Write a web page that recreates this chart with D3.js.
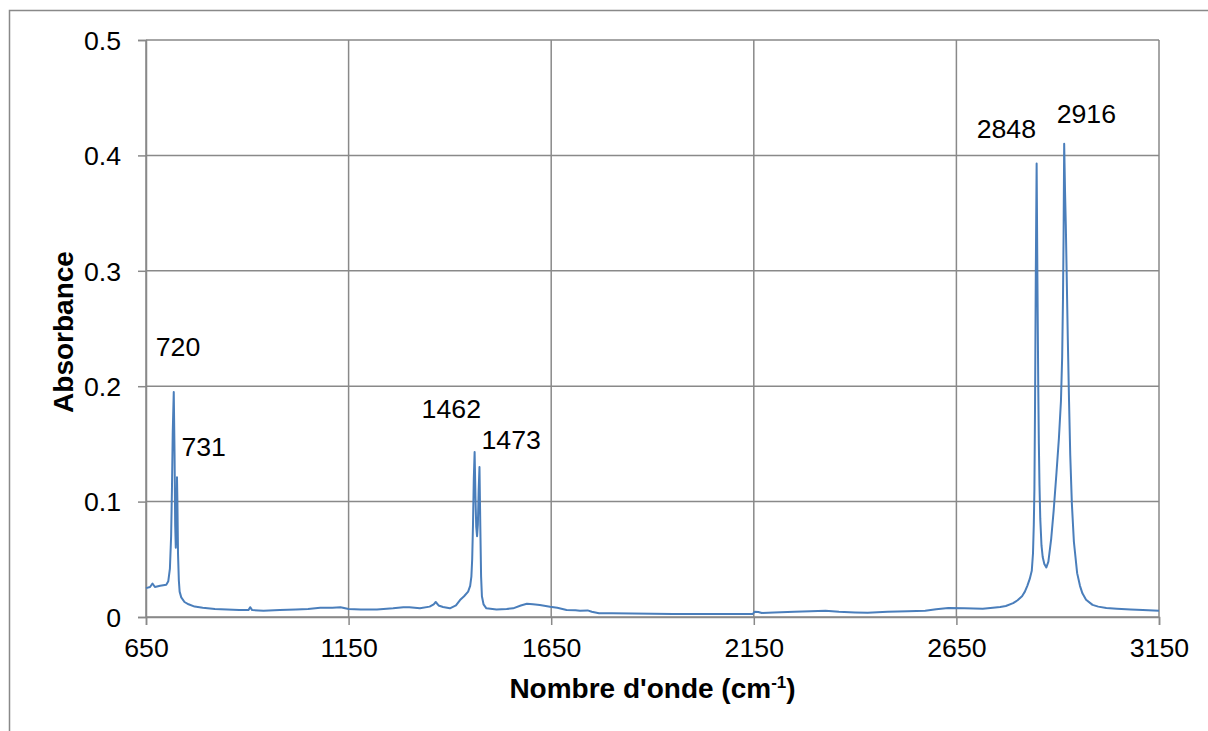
<!DOCTYPE html>
<html>
<head>
<meta charset="utf-8">
<script src="https://cdn.jsdelivr.net/npm/d3@7"></script>
<style>
  body { margin: 0; background: #fff; }
  text { font-family: "Liberation Sans", Arial, sans-serif; fill: #000; }
</style>
</head>
<body>
<svg class="view" width="1208" height="731"></svg>
<script>
// spectrum: wavenumber (cm-1) and absorbance
var wavenumber = [
    650, 660, 666, 672, 685, 700, 705, 709, 712, 714, 716, 718.5, 720.5, 722, 723.5, 725, 726.5, 727.5, 729, 731,
    733, 737, 745, 755, 770, 790, 820, 850, 880, 903, 907, 912, 940, 980, 1020, 1050, 1080, 1110, 1130, 1150,
    1180, 1220, 1260, 1285, 1300, 1326, 1350, 1360, 1365, 1372, 1383, 1400, 1415, 1425, 1435, 1445, 1450, 1453, 1455, 1457,
    1459, 1461, 1463, 1465, 1467, 1469, 1471, 1473, 1475, 1477, 1479, 1483, 1490, 1515, 1540, 1556, 1575, 1590, 1605, 1622,
    1647, 1665, 1688, 1710, 1721, 1740, 1750, 1768, 1800, 1850, 1900, 1950, 2005, 2050, 2100, 2147, 2152, 2161, 2170, 2200,
    2250, 2290, 2327, 2360, 2400, 2431, 2480, 2530, 2573, 2600, 2630, 2670, 2715, 2740, 2758, 2772, 2790, 2801, 2812, 2819,
    2825, 2831, 2836, 2839, 2841, 2842.5, 2844, 2846, 2848, 2850, 2852, 2853.5, 2855, 2857, 2860, 2863, 2867, 2872, 2877, 2884,
    2890, 2897, 2903, 2908, 2911, 2913, 2914.5, 2916, 2918, 2920, 2922, 2925, 2928, 2931, 2935, 2940, 2948, 2955, 2961, 2970,
    2986, 3000, 3020, 3046, 3080, 3110, 3150
];
var absorbance = [
    0.025, 0.026, 0.029, 0.026, 0.027, 0.028, 0.031, 0.042, 0.07, 0.11, 0.16, 0.195, 0.14, 0.08, 0.06, 0.075, 0.121, 0.1, 0.055, 0.032,
    0.022, 0.017, 0.013, 0.011, 0.009, 0.008, 0.007, 0.0065, 0.006, 0.006, 0.0085, 0.006, 0.0055, 0.006, 0.0065, 0.007, 0.008, 0.008, 0.0085, 0.007,
    0.0065, 0.0065, 0.0075, 0.0085, 0.0085, 0.0075, 0.009, 0.011, 0.013, 0.01, 0.0087, 0.0075, 0.01, 0.0147, 0.018, 0.022, 0.027, 0.035, 0.05, 0.08,
    0.12, 0.143, 0.105, 0.078, 0.07, 0.08, 0.11, 0.13, 0.08, 0.035, 0.018, 0.011, 0.0075, 0.0066, 0.007, 0.0075, 0.01, 0.0115, 0.011, 0.0104,
    0.0089, 0.008, 0.006, 0.0058, 0.0055, 0.0057, 0.0045, 0.0032, 0.0033, 0.003, 0.0028, 0.0027, 0.0026, 0.0027, 0.0026, 0.0025, 0.0045, 0.0043, 0.0035, 0.004,
    0.0045, 0.005, 0.0055, 0.0045, 0.004, 0.0037, 0.0045, 0.005, 0.0055, 0.0068, 0.0078, 0.0075, 0.0072, 0.008, 0.0086, 0.0095, 0.012, 0.0145, 0.018, 0.022,
    0.027, 0.033, 0.04, 0.055, 0.08, 0.11, 0.18, 0.3, 0.393, 0.29, 0.2, 0.15, 0.115, 0.085, 0.062, 0.052, 0.046, 0.043, 0.048, 0.068,
    0.092, 0.125, 0.155, 0.187, 0.225, 0.275, 0.33, 0.41, 0.37, 0.34, 0.3, 0.24, 0.187, 0.14, 0.098, 0.065, 0.038, 0.027, 0.0205, 0.015,
    0.0105, 0.009, 0.0078, 0.0072, 0.0065, 0.006, 0.0055
];

var xTicks = [650, 1150, 1650, 2150, 2650, 3150];
var yTicks = [0, 0.1, 0.2, 0.3, 0.4, 0.5];

// peak annotations
var peakLabels = ['720', '731', '1462', '1473', '2848', '2916'];
var peakWn = [718.5, 730, 1461, 1473, 2848, 2916];
var peakAbs = [0.195, 0.121, 0.143, 0.13, 0.393, 0.41];

var svg = d3.select('.view'),
    width = +svg.attr('width'),
    height = +svg.attr('height');

var margin = {top: 40, right: 49, bottom: 114, left: 146},
    plotW = width - margin.left - margin.right,
    plotH = height - margin.top - margin.bottom;

var gridColor = '#898989';

// outer chart frame (runs off the right and bottom edges)
svg.append('rect')
    .attr('x', 9.5).attr('y', 10.5)
    .attr('width', 1400).attr('height', 900)
    .attr('fill', 'none')
    .attr('stroke', gridColor)
    .attr('stroke-width', 1.5);

var x = d3.scaleLinear().domain([650, 3150]).range([0, plotW]);
var y = d3.scaleLinear().domain([0, 0.5]).range([plotH, 0]);

var g = svg.append('g')
    .attr('transform', 'translate(' + margin.left + ',' + margin.top + ')');

// grid
g.append('g').selectAll('line')
    .data(yTicks)
    .enter().append('line')
    .attr('x1', 0).attr('x2', plotW)
    .attr('y1', function (d) { return y(d); })
    .attr('y2', function (d) { return y(d); })
    .attr('stroke', gridColor).attr('stroke-width', 1.5);

g.append('g').selectAll('line')
    .data(xTicks)
    .enter().append('line')
    .attr('x1', function (d) { return x(d); })
    .attr('x2', function (d) { return x(d); })
    .attr('y1', 0).attr('y2', plotH)
    .attr('stroke', gridColor).attr('stroke-width', 1.5);

// axes
var xAxis = g.append('g')
    .attr('transform', 'translate(0,' + plotH + ')')
    .call(d3.axisBottom(x).tickValues(xTicks).tickSize(8).tickFormat(d3.format('d')));

var yAxis = g.append('g')
    .call(d3.axisLeft(y).tickValues(yTicks).tickSize(8).tickFormat(function (d) {
        return d === 0 ? '0' : d3.format('.1f')(d);
    }));

[xAxis, yAxis].forEach(function (a) {
    a.select('.domain').attr('stroke', gridColor).attr('stroke-width', 1.5);
    a.selectAll('.tick line').attr('stroke', gridColor).attr('stroke-width', 1.5);
    a.selectAll('.tick text')
        .style('font-family', '"Liberation Sans", Arial, sans-serif')
        .style('font-size', '26.7px')
        .attr('fill', '#000');
});

xAxis.selectAll('.tick text').attr('y', 40).attr('dy', 0);
yAxis.selectAll('.tick text').attr('x', -25).attr('dy', '0.35em');

// spectrum
var line = d3.line()
    .x(function (d, i) { return x(wavenumber[i]); })
    .y(function (d) { return y(d); });

g.append('path')
    .datum(absorbance)
    .attr('fill', 'none')
    .attr('stroke', '#4a7ebb')
    .attr('stroke-width', 2)
    .attr('stroke-linejoin', 'round')
    .attr('d', line);

// peak labels, offset from the top of each peak
var labelOffsets = [[-18, -36], [3, -21], [-53, -34], [2, -18], [-60, -25], [-7.5, -20.5]];

g.append('g').selectAll('text')
    .data(peakLabels)
    .enter().append('text')
    .attr('x', function (d, i) { return x(peakWn[i]) + labelOffsets[i][0]; })
    .attr('y', function (d, i) { return y(peakAbs[i]) + labelOffsets[i][1]; })
    .style('font-size', '26.7px')
    .text(function (d) { return d; });

// axis titles
var xTitle = g.append('text')
    .attr('x', plotW / 2)
    .attr('y', plotH + 81)
    .attr('text-anchor', 'middle')
    .style('font-size', '28px')
    .style('font-weight', 'bold');
xTitle.append('tspan').text('Nombre d\'onde (cm');
xTitle.append('tspan').attr('dy', -10).style('font-size', '17px').text('-1');
xTitle.append('tspan').attr('dy', 10).text(')');

g.append('text')
    .attr('transform', 'translate(' + (73 - margin.left) + ',' + (332 - margin.top) + ') rotate(-90)')
    .attr('text-anchor', 'middle')
    .style('font-size', '28px')
    .style('font-weight', 'bold')
    .text('Absorbance');
</script>
</body>
</html>
